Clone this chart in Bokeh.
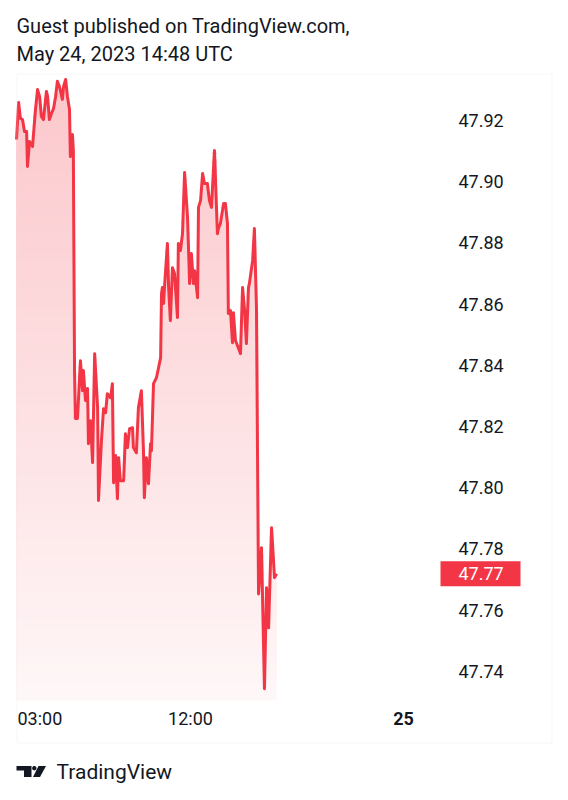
import numpy as np
from bokeh.plotting import figure
from bokeh.models import Range1d, BoxAnnotation, ColumnDataSource
from bokeh.core.properties import value
from bokeh.embed import file_html
from bokeh.resources import INLINE

# ---- data (minutes since 24 May 00:00, price) ----
minutes = [132, 139, 145, 152, 159, 166, 169, 176, 186, 196, 203, 210, 216, 223, 233, 237,
           243, 250, 257, 264, 270, 277, 287, 291, 298, 304, 311, 314, 321, 324, 328, 331,
           338, 348, 355, 358, 365, 372, 375, 382, 389, 396, 406, 409, 419, 426, 433, 439,
           450, 456, 460, 467, 473, 477, 483, 494, 500, 507, 514, 524, 527, 537, 544, 554,
           561, 564, 571, 578, 585, 588, 595, 605, 612, 619, 622, 625, 629, 632, 642, 646,
           652, 659, 666, 676, 679, 686, 693, 700, 710, 717, 723, 730, 734, 744, 747, 754,
           761, 767, 777, 784, 791, 801, 811, 815, 821, 832, 838, 845, 848, 855, 862, 865,
           872, 879, 889, 896, 903, 909, 916, 919, 930, 936, 943, 950, 960, 970, 977, 984,
           994, 1004, 1011]
prices = [47.9138, 47.9259, 47.9207, 47.9203, 47.9164, 47.9164, 47.9050, 47.9131, 47.9115,
          47.9236, 47.9301, 47.9278, 47.9213, 47.9203, 47.9295, 47.9278, 47.9203, 47.9223,
          47.9239, 47.9278, 47.9328, 47.9311, 47.9269, 47.9311, 47.9334, 47.9278, 47.9236,
          47.9082, 47.9154, 47.9102, 47.8383, 47.8226, 47.8226, 47.8415, 47.8317, 47.8383,
          47.8285, 47.8324, 47.8144, 47.8219, 47.8082, 47.8438, 47.8262, 47.7958, 47.8154,
          47.8258, 47.8245, 47.8307, 47.8294, 47.8340, 47.8016, 47.8105, 47.7964, 47.8098,
          47.8023, 47.8023, 47.8176, 47.8131, 47.8193, 47.8196, 47.8131, 47.8114, 47.8262,
          47.8317, 47.8121, 47.7967, 47.8098, 47.8013, 47.8144, 47.8121, 47.8340, 47.8360,
          47.8392, 47.8425, 47.8634, 47.8654, 47.8602, 47.8654, 47.8798, 47.8654, 47.8546,
          47.8719, 47.8700, 47.8556, 47.8798, 47.8775, 47.8830, 47.9030, 47.8883, 47.8667,
          47.8765, 47.8667, 47.8709, 47.8621, 47.8916, 47.8938, 47.9027, 47.8994, 47.8994,
          47.8938, 47.8916, 47.9102, 47.8830, 47.8850, 47.8863, 47.8929, 47.8929, 47.8863,
          47.8569, 47.8579, 47.8474, 47.8572, 47.8481, 47.8464, 47.8438, 47.8654, 47.8579,
          47.8471, 47.8654, 47.8667, 47.8742, 47.8847, 47.8589, 47.7653, 47.7804, 47.7343,
          47.7673, 47.7542, 47.7869, 47.7706, 47.7719]

price_ticks = [47.74, 47.76, 47.78, 47.80, 47.82, 47.84, 47.86, 47.88, 47.90, 47.92]
price_tick_labels = ["47.74", "47.76", "47.78", "47.80", "47.82", "47.84", "47.86",
                     "47.88", "47.90", "47.92"]
time_ticks = [180, 720, 1440]
time_labels = ["03:00", "12:00", "25"]
time_styles = ["normal", "normal", "bold"]
last_price_label = "47.77"
header_lines = ["Guest published on TradingView.com,", "May 24, 2023 14:48 UTC"]
brand = "TradingView"

RED = "#F23645"
TXT = "#131722"
FONT = value("Roboto")

# ---- layout: frame covers the whole canvas; scales calibrated to pixels ----
W, H = 560, 790
MIN_PER_PX = 3.3803       # minutes per pixel
PRICE_PER_PX = 0.0003268  # price per pixel
xr = Range1d(720 - 190 * MIN_PER_PX, 720 + (W - 190) * MIN_PER_PX)
yr = Range1d(47.92 - (H - 120) * PRICE_PER_PX, 47.92 + 120 * PRICE_PER_PX)

def xd(px):
    return xr.start + px * MIN_PER_PX

def yd(py):
    return yr.end - py * PRICE_PER_PX

p = figure(width=W, height=H, output_backend="svg", toolbar_location=None,
           x_range=xr, y_range=yr, min_border=0,
           x_axis_location=None, y_axis_location=None,
           background_fill_color="white", border_fill_color="white")
p.outline_line_color = None
p.xgrid.visible = False
p.ygrid.visible = False

PANE_TOP, PANE_BOTTOM = 73, 700

x = np.array(minutes, dtype=float)
y = np.array(prices)

# ---- gradient area (opaque stacked layers, bottom to top) ----
def blend(a):
    r, g, b = 0xF2, 0x36, 0x45
    c = [round(255 * (1 - a) + v * a) for v in (r, g, b)]
    return "#%02x%02x%02x" % tuple(c)

n = 70
levels = np.linspace(PANE_BOTTOM, PANE_TOP, n + 1)
for i in range(n):
    lo = yd(levels[i])
    mid = 0.5 * (levels[i] + levels[i + 1])
    a = 0.04 + 0.24 * (PANE_BOTTOM - mid) / (PANE_BOTTOM - PANE_TOP)
    p.varea(x=x, y1=lo, y2=np.maximum(y, lo), fill_color=blend(a), fill_alpha=1)

p.line(x, y, line_color=RED, line_width=3, line_join="round")

# ---- outer box ----
p.add_layout(BoxAnnotation(left=16.5, right=551.5, top=73.5, bottom=742.5,
                           left_units="canvas", right_units="canvas",
                           top_units="canvas", bottom_units="canvas",
                           fill_color=None, fill_alpha=0,
                           line_color="#e0e3eb", line_width=1))

# ---- price scale labels ----
p.text(x=[xd(458)] * len(price_ticks), y=price_ticks, text=price_tick_labels,
       text_align="left", text_baseline="middle", text_font=FONT,
       text_font_size="18px", text_color=TXT)

# ---- last price badge ----
last = prices[-1]
p.quad(left=[xd(440)], right=[xd(520)], top=[last + 12.5 * PRICE_PER_PX],
       bottom=[last - 12.5 * PRICE_PER_PX], fill_color=RED, line_color=None)
p.text(x=[xd(458)], y=[last], text=[last_price_label], text_align="left",
       text_baseline="middle", text_font=FONT, text_font_size="18px",
       text_color="white")

# ---- time labels ----
tx, ta = [], []
for t in time_ticks:
    if t < xd(16) + 25 * MIN_PER_PX:   # would overflow the pane's left edge
        tx.append(xd(17)); ta.append("left")
    else:
        tx.append(t); ta.append("center")
tsrc = ColumnDataSource(dict(x=tx, y=[yd(717.5)] * len(tx), text=time_labels,
                             align=ta, style=time_styles))
p.text(x="x", y="y", text="text", source=tsrc, text_align="align",
       text_font_style="style", text_baseline="middle", text_font=FONT,
       text_font_size="18px", text_color=TXT)

# ---- header ----
p.text(x=[xd(16)] * 2, y=[yd(25.5), yd(53.5)], text=header_lines, text_align="left",
       text_baseline="middle", text_font=FONT, text_font_size="20px",
       text_color=TXT)

# ---- footer brand ----
p.text(x=[xd(56)], y=[yd(771.5)], text=[brand], text_align="left",
       text_baseline="middle", text_font=FONT, text_font_size="21px",
       text_color=TXT)

logo_xs = [[16, 31, 31, 23.5, 23.5, 16], [38, 45.5, 39.5, 32.5]]
logo_ys = [[765.5, 765.5, 776.5, 776.5, 770, 770], [765.5, 765.5, 776.5, 776.5]]
p.patches([[xd(v) for v in xs_] for xs_ in logo_xs],
          [[yd(v) for v in ys_] for ys_ in logo_ys],
          fill_color=TXT, line_color=None)
ang = np.linspace(0, 2 * np.pi, 20, endpoint=False)
p.patch([xd(v) for v in 33.8 + 2.2 * np.cos(ang)], [yd(v) for v in 767.7 + 2.2 * np.sin(ang)],
        fill_color=TXT, line_color=None)

open("out.html", "w").write(file_html(p, INLINE))
